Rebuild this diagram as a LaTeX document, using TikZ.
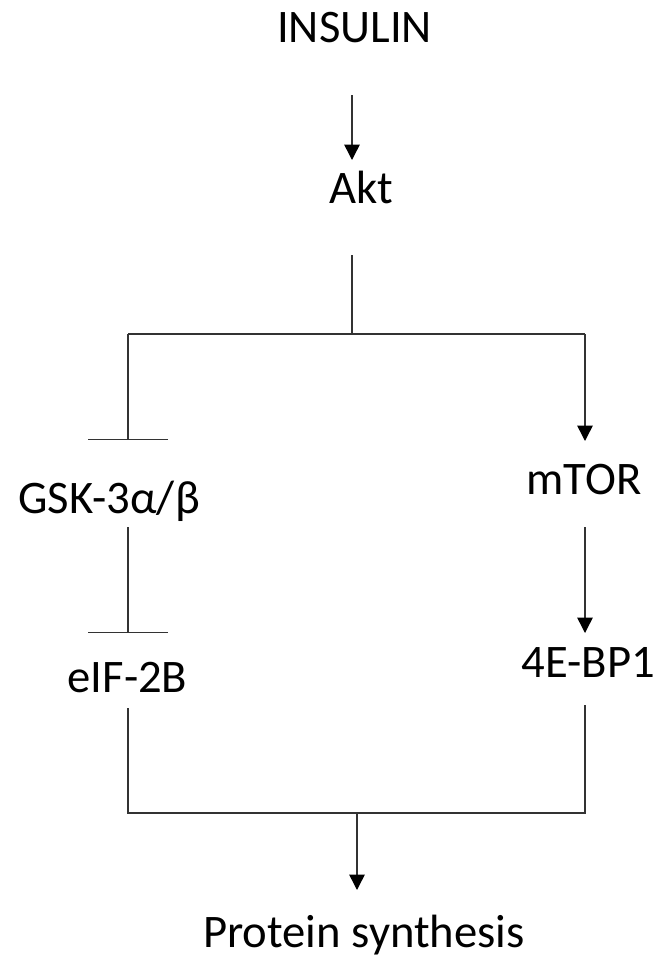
\documentclass[tikz,border=0pt]{standalone}
\usepackage{fontspec}
\setmainfont{Carlito}
\usepackage{tikz}
\usetikzlibrary{arrows.meta,positioning}

\tikzset{
  lbl/.style={anchor=base, inner sep=0pt, font=\fontsize{35pt}{42pt}\selectfont},
  link/.style={draw=black!80, line width=1.1pt},
  act/.style={link, -{Triangle[length=11.5pt,width=11.5pt,color=black]}},
  inhib/.style={link, -{Bar[width=60pt]}}
}

\begin{document}
\begin{tikzpicture}[x=0.75pt, y=-0.75pt]
  \useasboundingbox (0,0) rectangle (660,957);

  % Define labels (placed on their baselines)
  \node[lbl] (ins)  at (354.5, 42) {INSULIN};
  \node[lbl] (akt)  at (361.5, 203) {Akt};
  \node[lbl] (gsk)  at (109, 513) {GSK-3α/β};
  \node[lbl] (mtor) at (584, 494) {mTOR};
  \node[lbl] (eif)  at (127.5, 692) {eIF-2B};
  \node[lbl] (bp)   at (588.5, 677) {4E-BP1};
  \node[lbl] (prot) at (364, 947) {Protein synthesis};

  % Define connector ends and corners
  \coordinate (ins-out)  at (352, 95);
  \coordinate (akt-in)   at (352, 160);
  \coordinate (akt-out)  at (352, 255);
  \coordinate (split)    at (352, 334);
  \coordinate (splitL)   at (128, 334);
  \coordinate (splitR)   at (585, 334);
  \coordinate (gsk-in)   at (128, 440);
  \coordinate (mtor-in)  at (585, 441);
  \coordinate (gsk-out)  at (128, 527);
  \coordinate (eif-in)   at (128, 633);
  \coordinate (mtor-out) at (585, 527);
  \coordinate (bp-in)    at (585, 633);
  \coordinate (eif-out)  at (128, 708);
  \coordinate (bp-out)   at (585, 705);
  \coordinate (joinL)    at (128, 813);
  \coordinate (joinR)    at (585, 813);
  \coordinate (join)     at (357, 813);
  \coordinate (prot-in)  at (357, 890);

  % Draw arrows between nodes
  \draw[act] (ins-out) -- (akt-in);
  \draw[link] (akt-out) -- (split);
  \draw[link] (splitL) -- (splitR);
  \draw[inhib] (splitL) -- (gsk-in);
  \draw[act] (splitR) -- (mtor-in);
  \draw[inhib] (gsk-out) -- (eif-in);
  \draw[act] (mtor-out) -- (bp-in);
  \draw[link] (eif-out) -- (joinL) -- (joinR) -- (bp-out);
  \draw[act] (join) -- (prot-in);
\end{tikzpicture}
\end{document}
